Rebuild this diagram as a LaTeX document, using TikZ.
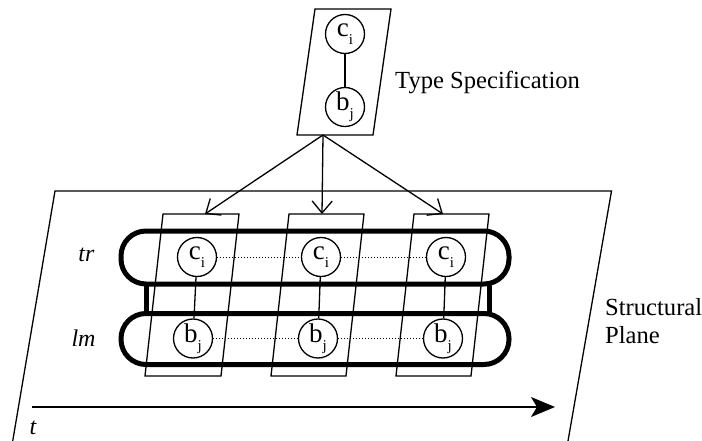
\documentclass[tikz,border=0pt]{standalone}
\usepackage{fontspec}
\setmainfont{Liberation Serif}
\usetikzlibrary{arrows.meta}
\newcommand{\lowsub}[1]{\raisebox{-0.28em}{\fontsize{15}{15}\selectfont #1}}
\begin{document}
\begin{tikzpicture}[x=1pt,y=-1pt,
  thinline/.style={line width=1.3pt},
  bar/.style={line width=5pt, rounded corners=25pt},
  barlink/.style={line width=5pt},
  vert/.style={circle, draw, line width=1.3pt, fill=white, minimum size=39pt, inner sep=0pt, font=\fontsize{27}{30}\selectfont},
  spec/.style={-{Straight Barb[length=12pt,width=20pt]}, line width=1.3pt},
  link/.style={line width=1.3pt},
  dots/.style={dotted, line width=1pt},
  lab/.style={font=\fontsize{24.6}{28.3}\selectfont, inner sep=0pt},
  ilab/.style={font=\fontsize{24}{28}\selectfont\itshape, inner sep=0pt}
]
\useasboundingbox (0,0) rectangle (702,441);

% structural plane
\draw[thinline] (12.7,441) -- (55,191) -- (611.5,191) -- (568,441);

% time axis
\coordinate (t0) at (32,407);
\coordinate (t1) at (555,407);
\draw[line width=1.5pt, -{Stealth[length=24pt,width=20pt,inset=6pt]}] (t0) -- (t1);

% thick bars
\draw[bar] (121,231) rectangle (509,284);
\draw[bar] (121,313.5) rectangle (509,364.5);
\coordinate (trL) at (146.5,284);
\coordinate (lmL) at (146.5,313.5);
\coordinate (trR) at (489,284);
\coordinate (lmR) at (489,313.5);
\draw[barlink] (trL) -- (lmL);
\draw[barlink] (trR) -- (lmR);

% type specification box
\draw[thinline] (315,9) -- (391,9) -- (373,135) -- (297,135) -- cycle;
% small boxes
\draw[thinline] (163,214) -- (239,214) -- (221,376) -- (145,376) -- cycle;
\draw[thinline] (289,214) -- (364,214) -- (346,376) -- (271,376) -- cycle;
\draw[thinline] (414,214) -- (489,214) -- (471,376) -- (396,376) -- cycle;

% vertices
\node[vert] (tc) at (345,34) {c\lowsub{i}};
\node[vert] (tb) at (345,107) {b\lowsub{j}};
\node[vert] (c1) at (197,257) {c\lowsub{i}};
\node[vert] (c2) at (321,257) {c\lowsub{i}};
\node[vert] (c3) at (446,257) {c\lowsub{i}};
\node[vert] (b1) at (193,338.5) {b\lowsub{j}};
\node[vert] (b2) at (318,338.5) {b\lowsub{j}};
\node[vert] (b3) at (443,338.5) {b\lowsub{j}};

\draw[link] (tc) -- (tb);
\draw[link] (c1) -- (b1);
\draw[link] (c2) -- (b2);
\draw[link] (c3) -- (b3);
\draw[dots] (c1) -- (c2);
\draw[dots] (c2) -- (c3);
\draw[dots] (b1) -- (b2);
\draw[dots] (b2) -- (b3);

% specification arrows
\coordinate (tsbot) at (323,135);
\coordinate (p1top) at (205,214);
\coordinate (p2top) at (322,214);
\coordinate (p3top) at (443,214);
\draw[spec] (tsbot) -- (p1top);
\draw[spec] (tsbot) -- (p2top);
\draw[spec] (tsbot) -- (p3top);

% labels
\node[lab, anchor=base west] (tslabel) at (395,89) {Type Specification};
\node[lab, anchor=north west, align=left] (splabel) at (605,298) {Structural\\Plane};
\node[ilab, anchor=base] (trlabel) at (86.5,261) {tr};
\node[ilab, anchor=base] (lmlabel) at (83.5,346) {lm};
\node[ilab, anchor=base] (tlabel) at (33,434) {t};
\end{tikzpicture}
\end{document}
